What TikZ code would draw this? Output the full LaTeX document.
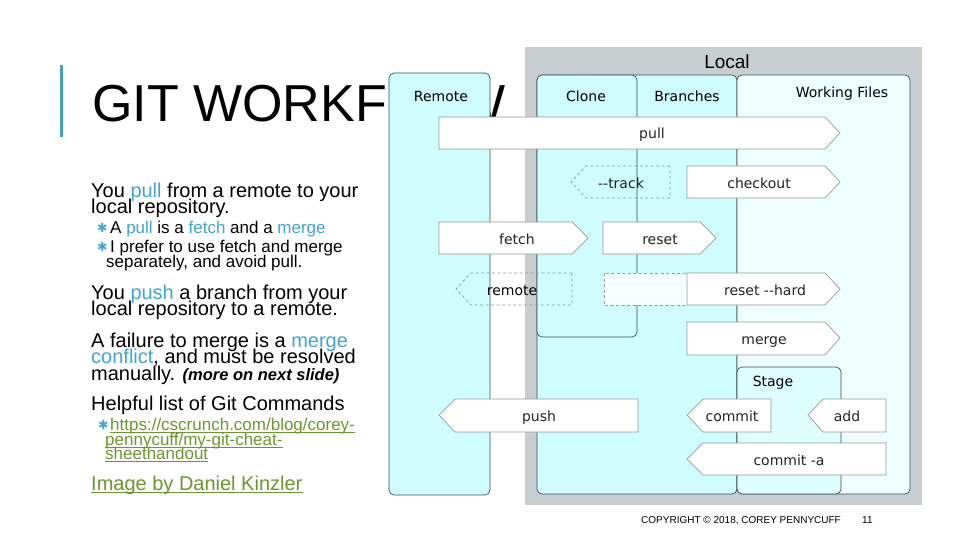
\documentclass[tikz,border=0pt]{standalone}
\usepackage{fontspec}
\setmainfont{Liberation Sans}
\newfontfamily\dejavu{DejaVu Sans}

\definecolor{kwblue}{RGB}{64,166,208}
\definecolor{barblue}{RGB}{66,160,200}
\definecolor{lnkgreen}{RGB}{108,150,46}
\definecolor{panelgray}{RGB}{200,206,208}
\definecolor{cyanfill}{RGB}{207,252,252}
\definecolor{workfill}{RGB}{238,254,254}
\definecolor{stagefill}{RGB}{222,253,253}
\definecolor{boxline}{RGB}{60,80,85}
\definecolor{cmdline}{RGB}{150,155,155}
\definecolor{labeltext}{RGB}{35,35,35}

\newcommand\kw[1]{\textcolor{kwblue}{#1}}

\tikzset{
  slide/.style={anchor=base west, inner sep=0pt, font=\fontsize{20}{16}\selectfont},
  subtext/.style={anchor=base west, inner sep=0pt, font=\fontsize{17}{15}\selectfont},
  dot/.style={anchor=base west, inner sep=0pt, text=kwblue, font=\dejavu\fontsize{12.5}{12}\selectfont},
  area/.style={draw=boxline, line width=0.7pt, rounded corners=5pt},
  cmd/.style={draw=cmdline, fill=white, line width=0.7pt},
  cmdopt/.style={draw=cmdline, dash pattern=on 3pt off 2.5pt, line width=0.7pt},
  cmdtext/.style={anchor=base, inner sep=0pt, text=labeltext, font=\dejavu\fontsize{14}{16}\selectfont},
  linkline/.style={draw=lnkgreen, line width=1.4pt},
}

\begin{document}
\begin{tikzpicture}[x=1pt,y=-1pt]
\useasboundingbox (0,0) rectangle (960,540);
\fill[white] (0,0) rectangle (960,540);

% title
\draw[barblue, line width=3pt] (61,65) -- (61,137);
\node[anchor=base west, inner sep=0pt, font=\fontsize{52}{52}\selectfont] (title) at (92,122) {GIT WORKFLOW};

% slide text
\node[slide] (pull1) at (91,197) {You \kw{pull} from a remote to your};
\node[slide] (pull2) at (91,213) {local repository.};
\node[dot] (dot1) at (97,232) {✱};
\node[subtext] (sub1) at (110,233) {A \kw{pull} is a \kw{fetch} and a \kw{merge}};
\node[dot] (dot2) at (97,251) {✱};
\node[subtext] (sub2) at (110,252) {I prefer to use fetch and merge};
\node[subtext] (sub3) at (106,267) {separately, and avoid pull.};
\node[slide] (push1) at (91,299) {You \kw{push} a branch from your};
\node[slide] (push2) at (91,315) {local repository to a remote.};
\node[slide] (fail1) at (91,347) {A failure to merge is a \kw{merge}};
\node[slide] (fail2) at (91,363) {\kw{conflict}, and must be resolved};
\node[slide] (fail3) at (91,380) {manually. {\fontsize{16.5}{16}\selectfont\bfseries\itshape (more on next slide)}};
\node[slide] (help) at (91,410) {Helpful list of Git Commands};
\node[dot] (dot3) at (98,429) {✱};
\node[subtext, text=lnkgreen] (link1) at (110,430) {https://cscrunch.com/blog/corey-};
\node[subtext, text=lnkgreen] (link2) at (105,445) {pennycuff/my-git-cheat-};
\node[subtext, text=lnkgreen] (link3) at (105,459) {sheethandout};
\node[slide, text=lnkgreen] (credit) at (91,490) {Image by Daniel Kinzler};
\foreach \n in {link1,link2,link3,credit}
  \draw[linkline] ([yshift=-2.5pt]\n.base west) -- ([yshift=-2.5pt]\n.base east);

% footer
\node[anchor=base west, inner sep=0pt, font=\fontsize{10}{12}\selectfont] (copy) at (641,523) {COPYRIGHT © 2018, COREY PENNYCUFF};
\node[anchor=base west, inner sep=0pt, font=\fontsize{10}{12}\selectfont] (page) at (862,523) {11};

% diagram areas
\fill[panelgray] (525,47) rectangle (922,505);
\draw[area, fill=cyanfill] (389,73) rectangle (490,495);
\draw[area, fill=cyanfill] (537,75) rectangle (737,494);
\draw[area, fill=cyanfill] (537,75) rectangle (637,337);
\draw[area, fill=workfill] (737,75) rectangle (910,494);
\draw[area, fill=stagefill] (737,367) rectangle (841,494);

% commands
\draw[cmd] (439,117) -- (825,117) -- (840,133) -- (825,149) -- (439,149) -- cycle;
\draw[cmdopt] (670,166) -- (586,166) -- (571,182) -- (586,198) -- (670,198) -- cycle;
\draw[cmd] (687,166) -- (825,166) -- (840,182) -- (825,198) -- (687,198) -- cycle;
\draw[cmd] (439,222) -- (572,222) -- (588,238) -- (572,254) -- (439,254) -- cycle;
\draw[cmd] (603,222) -- (700,222) -- (716,238) -- (700,254) -- (603,254) -- cycle;
\draw[cmdopt] (572,273) -- (471,273) -- (456,289) -- (471,305) -- (572,305) -- cycle;
\draw[cmdopt, fill=white!50!workfill] (604,273) rectangle (687,305);
\draw[cmd] (687,273) -- (825,273) -- (840,289) -- (825,305) -- (687,305) -- cycle;
\draw[cmd] (687,322) -- (825,322) -- (840,338) -- (825,355) -- (687,355) -- cycle;
\draw[cmd] (638,399) -- (455,399) -- (439,415) -- (455,432) -- (638,432) -- cycle;
\draw[cmd] (771,399) -- (703,399) -- (687,415) -- (703,432) -- (771,432) -- cycle;
\draw[cmd] (886,399) -- (823,399) -- (808,415) -- (823,432) -- (886,432) -- cycle;
\draw[cmd] (886,443) -- (703,443) -- (687,459) -- (703,475) -- (886,475) -- cycle;

% labels
\node[anchor=base, inner sep=0pt, font=\fontsize{19}{20}\selectfont] (localhead) at (727,69) {Local};
\node[cmdtext, text=black] (remotehead) at (441,102) {Remote};
\node[cmdtext, text=black] (clonehead) at (586,102) {Clone};
\node[cmdtext, text=black] (brancheshead) at (687,102) {Branches};
\node[cmdtext, text=black] (workhead) at (842,98) {Working Files};
\node[cmdtext, text=black] (stagehead) at (773,386) {Stage};
\node[cmdtext] (pull) at (652,139) {pull};
\node[cmdtext] (track) at (621,188) {-{}-track};
\node[cmdtext] (checkout) at (759,188) {checkout};
\node[cmdtext] (fetch) at (517,244) {fetch};
\node[cmdtext] (reset) at (660,244) {reset};
\node[cmdtext, text=black] (remote) at (512,295) {remote};
\node[cmdtext] (hard) at (765,295) {reset -{}-hard};
\node[cmdtext] (merge) at (764,344) {merge};
\node[cmdtext] (push) at (539,421) {push};
\node[cmdtext] (commit) at (732,421) {commit};
\node[cmdtext] (add) at (847,421) {add};
\node[cmdtext] (commita) at (789,465) {commit -a};
\end{tikzpicture}
\end{document}
